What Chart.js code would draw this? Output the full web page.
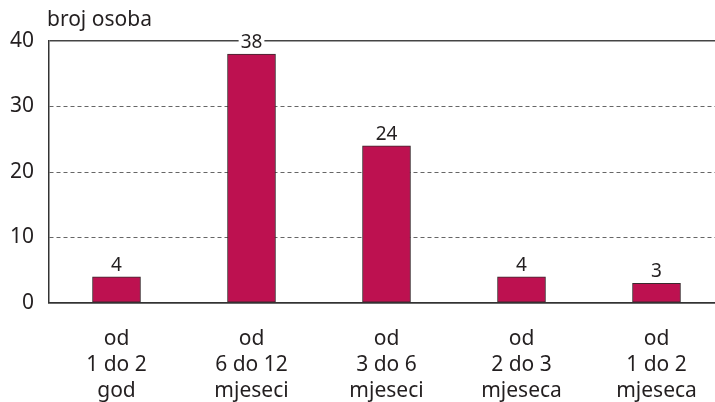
<!DOCTYPE html>
<html>
<head>
<meta charset="utf-8">
<script src="https://cdn.jsdelivr.net/npm/chart.js@4"></script>
<style>
    html, body { margin: 0; padding: 0; background: #fff; overflow: hidden; }
    #wrap { position: relative; width: 730px; height: 402px; }
    #ytitle {
        position: absolute; left: 47px; top: 4px;
        font-family: "Noto Sans", sans-serif; font-size: 21px; color: #231f20;
    }
</style>
</head>
<body>
<div id="wrap">
    <canvas id="chart"></canvas>
    <div id="ytitle">broj osoba</div>
</div>
<script>
// Chart data
const categories = [
    ['od', '1 do 2', 'god'],
    ['od', '6 do 12', 'mjeseci'],
    ['od', '3 do 6', 'mjeseci'],
    ['od', '2 do 3', 'mjeseca'],
    ['od', '1 do 2', 'mjeseca']
];
const values = [4, 38, 24, 4, 3];
const yTicks = [0, 10, 20, 30, 40];

const textColor = '#231f20';
const fontFamily = '"Noto Sans", sans-serif';

// Draw the value above each bar (white box behind it so it cuts the grid line)
const valueLabels = {
    id: 'valueLabels',
    afterDatasetsDraw(chart) {
        const ctx = chart.ctx;
        const meta = chart.getDatasetMeta(0);
        ctx.save();
        ctx.font = '19px ' + fontFamily;
        ctx.textAlign = 'center';
        ctx.textBaseline = 'bottom';
        meta.data.forEach((bar, i) => {
            const text = String(values[i]);
            const w = ctx.measureText(text).width;
            const y = bar.y - 3;
            ctx.fillStyle = '#fff';
            ctx.fillRect(bar.x - w / 2 - 2, y - 18, w + 4, 16);
            ctx.fillStyle = textColor;
            ctx.fillText(text, bar.x, y + 1);
        });
        ctx.restore();
    }
};

new Chart(document.getElementById('chart'), {
    type: 'bar',
    data: {
        labels: categories,
        datasets: [{
            data: values,
            backgroundColor: '#bd1150',
            borderColor: '#3a2a2e',
            borderWidth: 1,
            borderSkipped: false,
            barThickness: 48
        }]
    },
    options: {
        responsive: true,
        maintainAspectRatio: false,
        animation: false,
        layout: { padding: { top: 41, right: 6, left: 0, bottom: 0 } },
        plugins: {
            legend: { display: false },
            tooltip: { enabled: false }
        },
        scales: {
            x: {
                grid: { display: false, drawTicks: false },
                border: { display: true, color: '#333', width: 1.5 },
                ticks: {
                    color: textColor,
                    padding: 23,
                    maxRotation: 0,
                    autoSkip: false,
                    font: { family: fontFamily, size: 21, lineHeight: '26px' }
                },
                afterFit(scale) { scale.height = 99; }
            },
            y: {
                min: 0,
                max: 40,
                afterBuildTicks(scale) { scale.ticks = yTicks.map(v => ({ value: v })); },
                grid: {
                    drawTicks: false,
                    color: ctx => (ctx.tick && (ctx.tick.value === 0 || ctx.tick.value === 40)) ? '#444' : '#666',
                    lineWidth: ctx => (ctx.tick && (ctx.tick.value === 0 || ctx.tick.value === 40)) ? 1.5 : 1
                },
                border: {
                    display: true,
                    color: '#333',
                    width: 1.5,
                    dash: ctx => (ctx.tick && (ctx.tick.value === 0 || ctx.tick.value === 40)) ? [] : [4, 3]
                },
                ticks: {
                    color: textColor,
                    padding: 15,
                    font: { family: fontFamily, size: 21 }
                },
                afterFit(scale) { scale.width = 49; }
            }
        }
    },
    plugins: [valueLabels]
});
</script>
</body>
</html>
